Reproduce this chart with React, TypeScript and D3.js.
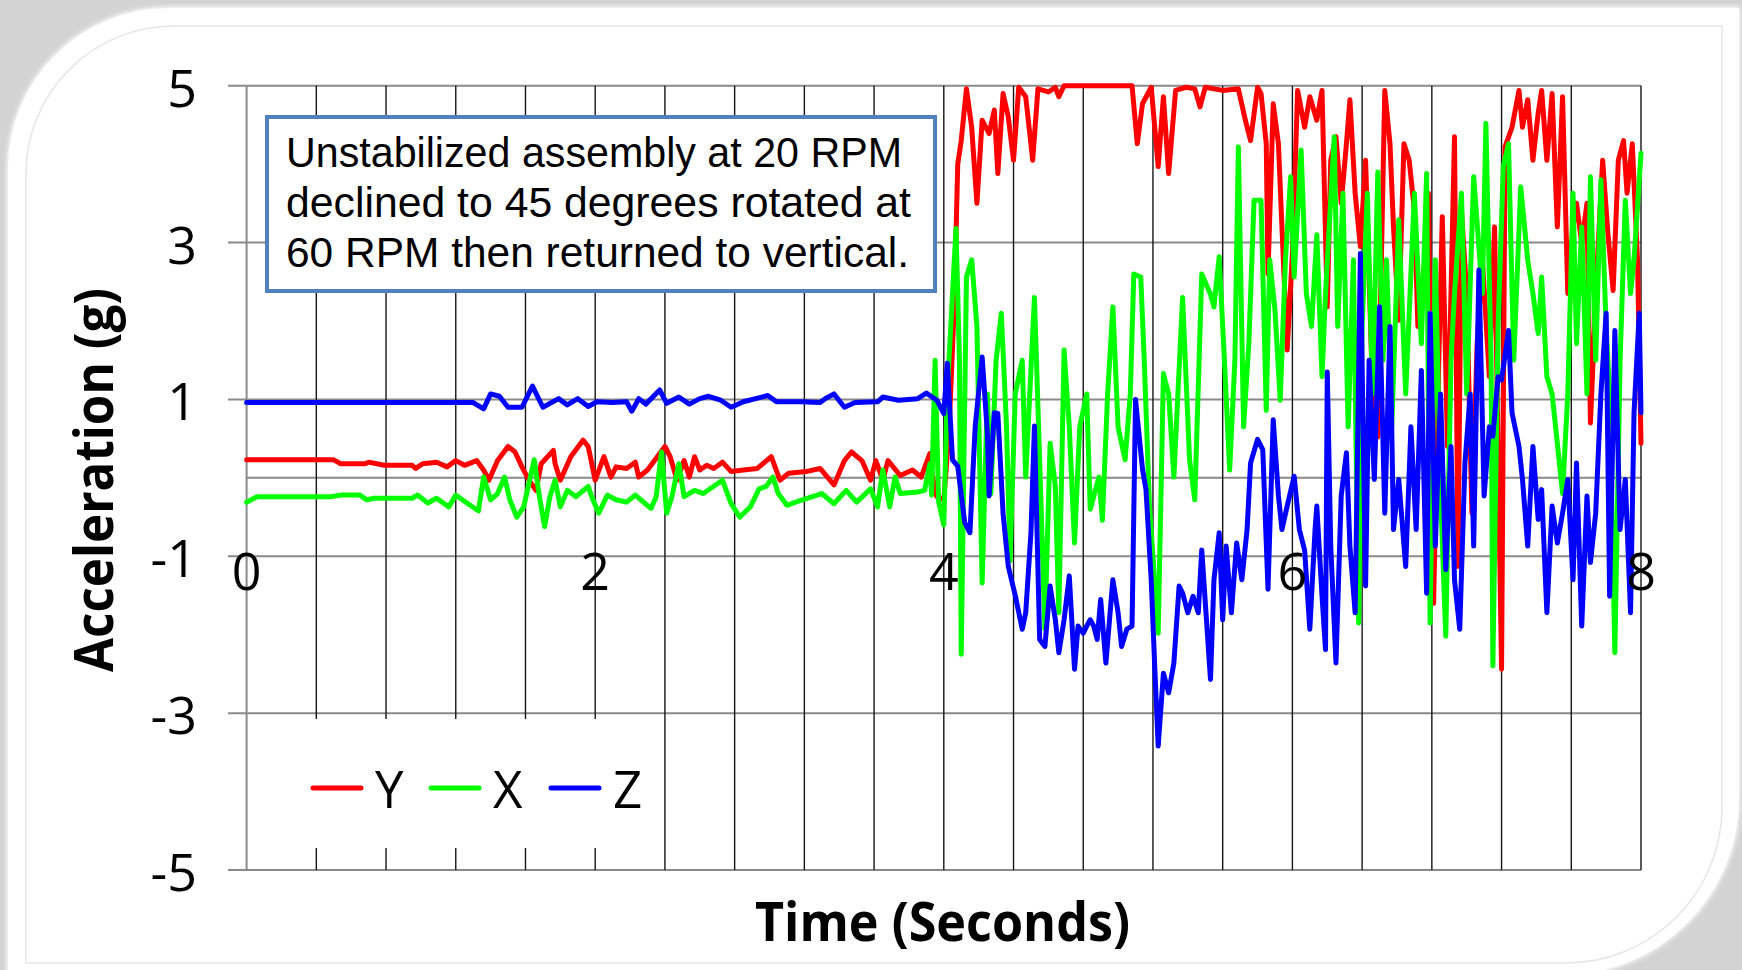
import React, { useRef, useEffect } from "react";
import * as d3 from "d3";

const W = 1742;
const H = 970;

// [seconds, g], one array per axis
const seriesY = [
  [0, 0.23], [0.5, 0.23], [0.54, 0.18], [0.68, 0.18], [0.7, 0.2], [0.79, 0.16], [0.95, 0.16], [0.97, 0.12],
  [1.01, 0.18], [1.09, 0.2], [1.15, 0.14], [1.2, 0.22], [1.25, 0.16], [1.32, 0.22], [1.36, 0.1], [1.39, -0.03],
  [1.44, 0.22], [1.5, 0.4], [1.54, 0.33], [1.58, 0.14], [1.62, -0.03], [1.66, -0.16], [1.69, 0.18], [1.76, 0.35],
  [1.77, 0.18], [1.8, -0.03], [1.86, 0.27], [1.93, 0.48], [1.96, 0.4], [2.0, -0.03], [2.05, 0.27], [2.09, 0.01],
  [2.12, 0.14], [2.18, 0.12], [2.23, 0.2], [2.25, 0.01], [2.3, 0.1], [2.4, 0.4], [2.43, 0.27], [2.47, -0.03],
  [2.51, 0.22], [2.54, 0.01], [2.57, 0.27], [2.6, 0.1], [2.64, 0.16], [2.68, 0.12], [2.73, 0.2], [2.78, 0.08],
  [2.85, 0.1], [2.93, 0.12], [3.01, 0.27], [3.06, -0.03], [3.11, 0.06], [3.21, 0.08], [3.29, 0.12], [3.37, -0.09],
  [3.43, 0.22], [3.47, 0.33], [3.53, 0.22], [3.58, -0.03], [3.61, 0.22], [3.65, -0.03], [3.68, 0.22], [3.75, 0.03],
  [3.82, 0.1], [3.87, 0.01], [3.92, 0.31], [3.93, 0.06], [3.96, -0.24], [4.0, -0.28], [4.03, 0.6], [4.06, 2.2],
  [4.08, 4.0], [4.1, 4.3], [4.13, 4.96], [4.16, 4.47], [4.19, 3.5], [4.22, 4.56], [4.26, 4.39], [4.29, 4.69],
  [4.31, 3.88], [4.34, 4.9], [4.37, 4.6], [4.4, 4.05], [4.43, 4.98], [4.47, 4.86], [4.51, 4.05], [4.54, 4.96],
  [4.6, 4.92], [4.64, 4.98], [4.66, 4.86], [4.69, 5], [5.08, 5], [5.11, 4.26], [5.14, 4.77], [5.19, 4.98],
  [5.23, 3.97], [5.26, 4.86], [5.29, 3.88], [5.33, 4.94], [5.39, 4.98], [5.44, 4.96], [5.47, 4.73], [5.5, 4.98],
  [5.6, 4.94], [5.69, 4.96], [5.73, 4.56], [5.76, 4.3], [5.8, 4.98], [5.82, 4.9], [5.85, 4.26], [5.86, 2.6],
  [5.89, 4.77], [5.92, 4.26], [5.94, 3.2], [5.97, 1.63], [6.0, 2.86], [6.03, 4.94], [6.07, 4.47], [6.1, 4.86],
  [6.14, 4.56], [6.17, 4.94], [6.2, 2.18], [6.22, 4.05], [6.25, 4.35], [6.28, 3.5], [6.31, 4.26], [6.33, 4.82],
  [6.36, 3.63], [6.39, 2.95], [6.42, 4.05], [6.46, 1.07], [6.49, 0.52], [6.53, 4.94], [6.56, 4.26], [6.58, 3.2],
  [6.61, 2.01], [6.64, 4.26], [6.67, 4.05], [6.7, 3.41], [6.72, 1.93], [6.76, 2.78], [6.78, 3.63], [6.81, -1.6],
  [6.84, 1.5], [6.86, 3.33], [6.89, 0.4], [6.93, 4.35], [6.95, -1.13], [6.97, 3.41], [7.0, 2.35], [7.03, -0.45],
  [7.06, 1.71], [7.09, 2.78], [7.13, 1.29], [7.16, 3.2], [7.2, -2.44], [7.22, 4.22], [7.26, 4.47], [7.3, 4.94],
  [7.32, 4.47], [7.35, 4.82], [7.38, 4.05], [7.41, 4.65], [7.43, 4.94], [7.46, 4.05], [7.49, 4.9], [7.52, 3.2],
  [7.55, 4.86], [7.58, 2.35], [7.61, 3.2], [7.63, 3.5], [7.66, 2.99], [7.69, 3.5], [7.71, 0.7], [7.75, 2.78],
  [7.78, 4.05], [7.81, 3.12], [7.84, 2.39], [7.87, 4.05], [7.9, 4.3], [7.92, 3.63], [7.95, 4.26], [7.98, 2.78],
  [8.0, 0.44],
];

const seriesX = [
  [0, -0.31], [0.06, -0.24], [0.48, -0.24], [0.54, -0.22], [0.65, -0.22], [0.69, -0.28], [0.73, -0.26], [0.95, -0.26],
  [0.98, -0.22], [1.04, -0.32], [1.09, -0.26], [1.16, -0.37], [1.2, -0.22], [1.27, -0.33], [1.33, -0.42], [1.36, 0.01],
  [1.4, -0.28], [1.44, -0.2], [1.48, 0.01], [1.51, -0.28], [1.55, -0.5], [1.59, -0.37], [1.65, 0.23], [1.68, -0.24],
  [1.71, -0.62], [1.74, -0.24], [1.77, -0.03], [1.8, -0.37], [1.84, -0.16], [1.89, -0.24], [1.96, -0.11], [1.98, -0.24],
  [2.02, -0.45], [2.07, -0.22], [2.12, -0.28], [2.18, -0.31], [2.23, -0.22], [2.32, -0.39], [2.35, -0.24], [2.38, 0.33],
  [2.41, -0.45], [2.44, -0.24], [2.48, 0.18], [2.51, -0.24], [2.57, -0.16], [2.62, -0.2], [2.73, -0.03], [2.78, -0.33],
  [2.83, -0.5], [2.89, -0.37], [2.94, -0.14], [2.98, -0.11], [3.02, 0.01], [3.05, -0.2], [3.1, -0.35], [3.15, -0.31],
  [3.22, -0.26], [3.3, -0.2], [3.37, -0.33], [3.44, -0.16], [3.5, -0.31], [3.58, -0.14], [3.62, -0.37], [3.65, 0.1],
  [3.69, -0.37], [3.72, 0.01], [3.75, -0.2], [3.85, -0.18], [3.89, -0.16], [3.92, 0.18], [3.93, -0.22], [3.95, 1.5],
  [3.97, -0.3], [4.0, -0.6], [4.02, 1.1], [4.05, 2.35], [4.07, 3.18], [4.09, 1.5], [4.1, -2.25], [4.13, 2.56],
  [4.16, 2.78], [4.19, 1.93], [4.22, -1.34], [4.25, 1.07], [4.27, -0.2], [4.3, 1.5], [4.33, 2.1], [4.36, 0.65],
  [4.38, -1.06], [4.41, 1.07], [4.45, 1.5], [4.47, 0.01], [4.52, 2.3], [4.55, 0.23], [4.58, -1.93], [4.61, 0.44],
  [4.64, -0.11], [4.66, -1.72], [4.69, 1.63], [4.72, 0.65], [4.75, -0.83], [4.78, 0.65], [4.82, 1.07], [4.84, -0.4],
  [4.89, 0.01], [4.91, -0.54], [4.94, 1.07], [4.97, 2.18], [5.0, 0.65], [5.04, 0.23], [5.07, 1.07], [5.09, 2.6],
  [5.13, 2.56], [5.15, 1.5], [5.18, -0.36], [5.23, -1.98], [5.26, 1.33], [5.29, 1.07], [5.32, 0.01], [5.37, 2.3],
  [5.41, 0.23], [5.44, -0.28], [5.48, 2.6], [5.53, 2.34], [5.55, 2.18], [5.58, 2.82], [5.61, 1.5], [5.64, 0.1],
  [5.67, 1.5], [5.69, 4.22], [5.72, 0.65], [5.75, 1.71], [5.78, 3.54], [5.82, 3.54], [5.85, 0.86], [5.87, 2.78],
  [5.9, 2.14], [5.93, 0.99], [5.96, 2.78], [5.99, 3.84], [6.01, 2.56], [6.05, 4.18], [6.08, 2.35], [6.11, 1.93],
  [6.14, 3.1], [6.17, 1.29], [6.19, 2.35], [6.24, 4.35], [6.26, 1.93], [6.29, 3.63], [6.32, 0.65], [6.35, 2.78],
  [6.38, -1.85], [6.4, 1.93], [6.43, 3.63], [6.46, 1.07], [6.49, 3.9], [6.52, 1.5], [6.54, 2.78], [6.57, 0.65],
  [6.61, 3.29], [6.65, 1.07], [6.7, 3.63], [6.74, 1.71], [6.77, 3.88], [6.79, -1.85], [6.82, 2.78], [6.85, -0.2],
  [6.88, -2.02], [6.91, 1.5], [6.93, 2.35], [6.97, 3.63], [7.0, 1.07], [7.04, 3.84], [7.09, 2.35], [7.11, 4.52],
  [7.14, 1.5], [7.15, -2.4], [7.18, 1.93], [7.21, 3.97], [7.24, 4.26], [7.27, 1.5], [7.31, 3.71], [7.35, 2.78],
  [7.38, 2.35], [7.41, 1.84], [7.43, 2.56], [7.46, 1.29], [7.49, 1.07], [7.52, 0.44], [7.55, -0.2], [7.58, 1.07],
  [7.61, 3.63], [7.63, 1.71], [7.66, 3.2], [7.69, 1.07], [7.71, 3.84], [7.74, 1.5], [7.77, 3.8], [7.8, 1.93],
  [7.82, 1.07], [7.85, -2.23], [7.88, 1.5], [7.91, 3.54], [7.94, 2.35], [7.96, 2.78], [8.0, 4.14],
];

const seriesZ = [
  [0, 0.96], [1.3, 0.96], [1.36, 0.88], [1.4, 1.07], [1.45, 1.04], [1.5, 0.9], [1.58, 0.9], [1.64, 1.17],
  [1.7, 0.9], [1.79, 1.01], [1.84, 0.93], [1.9, 1.01], [1.96, 0.91], [2.01, 0.97], [2.1, 0.96], [2.18, 0.97],
  [2.21, 0.85], [2.25, 1.01], [2.29, 0.94], [2.37, 1.12], [2.41, 0.95], [2.48, 1.03], [2.54, 0.94], [2.6, 1.01],
  [2.65, 1.04], [2.72, 0.99], [2.78, 0.9], [2.85, 0.97], [2.99, 1.05], [3.04, 0.97], [3.18, 0.97], [3.29, 0.96],
  [3.32, 1.01], [3.37, 1.07], [3.43, 0.9], [3.49, 0.96], [3.62, 0.97], [3.65, 1.03], [3.74, 0.99], [3.85, 1.01],
  [3.9, 1.08], [3.96, 0.99], [4.0, 0.82], [4.02, 1.46], [4.05, 0.23], [4.08, 0.15], [4.12, -0.57], [4.15, -0.7],
  [4.18, 0.65], [4.22, 1.54], [4.25, 0.57], [4.26, -0.23], [4.29, 0.83], [4.31, 0.82], [4.34, -0.45], [4.37, -1.13],
  [4.41, -1.5], [4.45, -1.93], [4.47, -1.72], [4.5, -0.7], [4.52, 0.66], [4.55, -2.06], [4.58, -2.15], [4.61, -1.38],
  [4.64, -1.81], [4.66, -2.23], [4.69, -1.81], [4.72, -1.25], [4.75, -2.44], [4.77, -1.89], [4.8, -1.98], [4.82, -1.89],
  [4.84, -1.81], [4.86, -1.89], [4.88, -2.06], [4.9, -1.55], [4.93, -2.36], [4.97, -1.3], [5.0, -1.72], [5.02, -2.15],
  [5.05, -1.93], [5.08, -1.89], [5.1, 1.0], [5.14, 0.11], [5.16, -0.15], [5.19, -1.3], [5.21, -2.4], [5.23, -3.42],
  [5.26, -2.49], [5.29, -2.74], [5.32, -2.36], [5.35, -1.38], [5.37, -1.47], [5.4, -1.72], [5.43, -1.51], [5.46, -1.72],
  [5.48, -0.92], [5.53, -2.57], [5.55, -1.3], [5.58, -0.7], [5.6, -1.81], [5.62, -0.87], [5.65, -1.72], [5.68, -0.83],
  [5.71, -1.3], [5.74, -0.66], [5.76, 0.19], [5.8, 0.49], [5.83, 0.36], [5.86, -1.42], [5.89, 0.74], [5.92, -0.23],
  [5.94, -0.66], [5.97, -0.36], [6.01, 0.02], [6.04, -0.66], [6.07, -0.92], [6.1, -1.93], [6.13, -0.66], [6.14, -0.36],
  [6.17, -1.51], [6.19, -2.19], [6.2, 1.35], [6.22, -0.87], [6.25, -2.36], [6.28, -0.23], [6.31, 0.32], [6.33, -0.87],
  [6.36, -1.72], [6.39, 2.86], [6.42, -1.38], [6.44, 1.5], [6.47, -0.02], [6.5, 2.18], [6.53, -0.45], [6.56, 1.93],
  [6.58, -0.66], [6.61, -0.02], [6.65, -1.13], [6.68, 0.65], [6.71, -0.66], [6.74, 1.37], [6.77, -1.47], [6.79, 2.1],
  [6.82, -0.87], [6.85, 1.07], [6.88, -1.17], [6.91, 0.4], [6.93, -1.3], [6.96, -1.93], [6.99, 0.19], [7.02, 1.07],
  [7.04, -0.87], [7.07, 2.65], [7.1, -0.23], [7.13, 0.65], [7.15, 0.53], [7.18, 1.29], [7.2, 1.25], [7.24, 1.88],
  [7.26, 0.83], [7.3, 0.4], [7.32, -0.02], [7.35, -0.87], [7.38, 0.4], [7.41, -0.53], [7.43, -0.15], [7.46, -1.72],
  [7.49, -0.36], [7.52, -0.83], [7.55, -0.45], [7.58, -0.02], [7.61, -1.3], [7.63, 0.19], [7.66, -1.89], [7.69, -0.23],
  [7.71, -1.08], [7.74, -0.45], [7.77, 1.07], [7.8, 2.1], [7.82, -1.51], [7.85, 1.88], [7.88, -0.66], [7.91, -0.02],
  [7.94, -1.72], [7.96, 0.83], [7.99, 2.1], [8.0, 0.83],
];

const yTicks = [5, 3, 1, -1, -3, -5];
const xLabels = [0, 2, 4, 6, 8];
const gridTimes = d3.range(0, 21).map((i) => i * 0.4);

const traces = [
  { name: "Y", color: "#ff0000", data: seriesY },
  { name: "X", color: "#00ff00", data: seriesX },
  { name: "Z", color: "#0000ff", data: seriesZ },
];

const noteLines = [
  "Unstabilized assembly at 20 RPM",
  "declined to 45 degrees rotated at",
  "60 RPM then returned to vertical.",
];

const FONT = "'Open Sans', 'Liberation Sans', sans-serif";
const NOTE_FONT = "'Liberation Sans', Arial, sans-serif";

function App() {
  const ref = useRef(null);

  useEffect(() => {
    const svg = d3.select(ref.current);
    svg.selectAll("*").remove(); // start clean

    const x = d3.scaleLinear().domain([0, 8]).range([246.6, 1641]);
    const y = d3.scaleLinear().domain([-5, 5]).range([870, 85.7]);

    // --- rounded panel behind the chart
    const defs = svg.append("defs");
    const soft = defs.append("filter").attr("id", "soft").attr("x", "-5%").attr("y", "-5%").attr("width", "110%").attr("height", "110%");
    soft.append("feGaussianBlur").attr("stdDeviation", 2.5);

    svg.append("rect").attr("width", W).attr("height", H).attr("fill", "#d3d3d3");

    const panel = (l, t, r, b, r1, r2) =>
      `M${l + r1},${t} H${r} V${b - r2} A${r2},${r2} 0 0 1 ${r - r2},${b} H${l} V${t + r1} A${r1},${r1} 0 0 1 ${l + r1},${t} Z`;

    svg.append("path").attr("d", panel(7, 7, 1740, 976, 162, 178)).attr("fill", "#fff").attr("filter", "url(#soft)");
    svg.append("path").attr("d", panel(8, 8, 1739, 975, 161, 177)).attr("fill", "#fff");
    svg
      .append("path")
      .attr("d", panel(26, 26, 1722, 963, 148, 156))
      .attr("fill", "none")
      .attr("stroke", "#e6e6e6")
      .attr("stroke-width", 1.5);

    // --- grid
    const grid = svg.append("g");
    grid
      .selectAll("line.h")
      .data(yTicks)
      .join("line")
      .attr("x1", 228)
      .attr("x2", x(8))
      .attr("y1", (d) => y(d))
      .attr("y2", (d) => y(d))
      .attr("stroke", "#8a8a8a")
      .attr("stroke-width", 2);

    grid
      .append("line")
      .attr("x1", x(0))
      .attr("x2", x(8))
      .attr("y1", y(0))
      .attr("y2", y(0))
      .attr("stroke", "#8a8a8a")
      .attr("stroke-width", 2);

    grid
      .selectAll("line.v")
      .data(gridTimes.slice(1))
      .join("line")
      .attr("x1", (d) => x(d))
      .attr("x2", (d) => x(d))
      .attr("y1", y(5))
      .attr("y2", y(-5))
      .attr("stroke", "#161616")
      .attr("stroke-width", 1.4);

    grid
      .append("line")
      .attr("x1", x(0))
      .attr("x2", x(0))
      .attr("y1", y(5))
      .attr("y2", y(-5))
      .attr("stroke", "#8a8a8a")
      .attr("stroke-width", 2);

    // --- traces
    const line = d3
      .line()
      .x((d) => x(d[0]))
      .y((d) => y(d[1]));

    traces.forEach((s) => {
      svg
        .append("path")
        .datum(s.data)
        .attr("d", line)
        .attr("fill", "none")
        .attr("stroke", s.color)
        .attr("stroke-width", 5)
        .attr("stroke-linejoin", "round")
        .attr("stroke-linecap", "round");
    });

    // --- annotation box
    svg
      .append("rect")
      .attr("x", 267)
      .attr("y", 117)
      .attr("width", 668)
      .attr("height", 174)
      .attr("fill", "#fff")
      .attr("stroke", "#4f81bd")
      .attr("stroke-width", 4);

    const noteWidths = [616, 625, 623];
    svg
      .selectAll("text.note")
      .data(noteLines)
      .join("text")
      .attr("x", 286)
      .attr("y", (d, i) => 166.7 + i * 50.2)
      .attr("font-family", NOTE_FONT)
      .attr("font-size", 43)
      .attr("textLength", (d, i) => noteWidths[i])
      .attr("lengthAdjust", "spacingAndGlyphs")
      .text((d) => d);

    // --- legend
    const legend = svg.append("g");
    legend.append("rect").attr("x", 249).attr("y", 719).attr("width", 392).attr("height", 129).attr("fill", "#fff");
    const legendX = [313, 431, 551];
    traces.forEach((s, i) => {
      legend
        .append("line")
        .attr("x1", legendX[i])
        .attr("x2", legendX[i] + 48)
        .attr("y1", 788)
        .attr("y2", 788)
        .attr("stroke", s.color)
        .attr("stroke-width", 5)
        .attr("stroke-linecap", "round");
      legend
        .append("text")
        .attr("x", legendX[i] + 62)
        .attr("y", 808)
        .attr("font-family", FONT)
        .attr("font-size", 51)
        .text(s.name);
    });

    // --- tick labels
    svg
      .selectAll("text.ytick")
      .data(yTicks)
      .join("text")
      .attr("x", 197)
      .attr("y", (d) => y(d) + 21)
      .attr("text-anchor", "end")
      .attr("font-family", FONT)
      .attr("font-size", 52)
      .text((d) => d);

    svg
      .selectAll("text.xtick")
      .data(xLabels)
      .join("text")
      .attr("x", (d) => x(d))
      .attr("y", 590)
      .attr("text-anchor", "middle")
      .attr("font-family", FONT)
      .attr("font-size", 52)
      .text((d) => d);

    // --- axis titles
    svg
      .append("text")
      .attr("transform", "translate(113,480) rotate(-90)")
      .attr("text-anchor", "middle")
      .attr("font-family", FONT)
      .attr("font-weight", "bold")
      .attr("font-size", 54)
      .attr("textLength", 384)
      .attr("lengthAdjust", "spacingAndGlyphs")
      .text("Acceleration (g)");

    svg
      .append("text")
      .attr("x", 942.5)
      .attr("y", 940.7)
      .attr("text-anchor", "middle")
      .attr("font-family", FONT)
      .attr("font-weight", "bold")
      .attr("font-size", 54)
      .attr("textLength", 375)
      .attr("lengthAdjust", "spacingAndGlyphs")
      .text("Time (Seconds)");
  }, []);

  return (
    <svg
      ref={ref}
      width={W}
      height={H}
      style={{ position: "absolute", left: 0, top: 0, display: "block" }}
    ></svg>
  );
}

export default App;
